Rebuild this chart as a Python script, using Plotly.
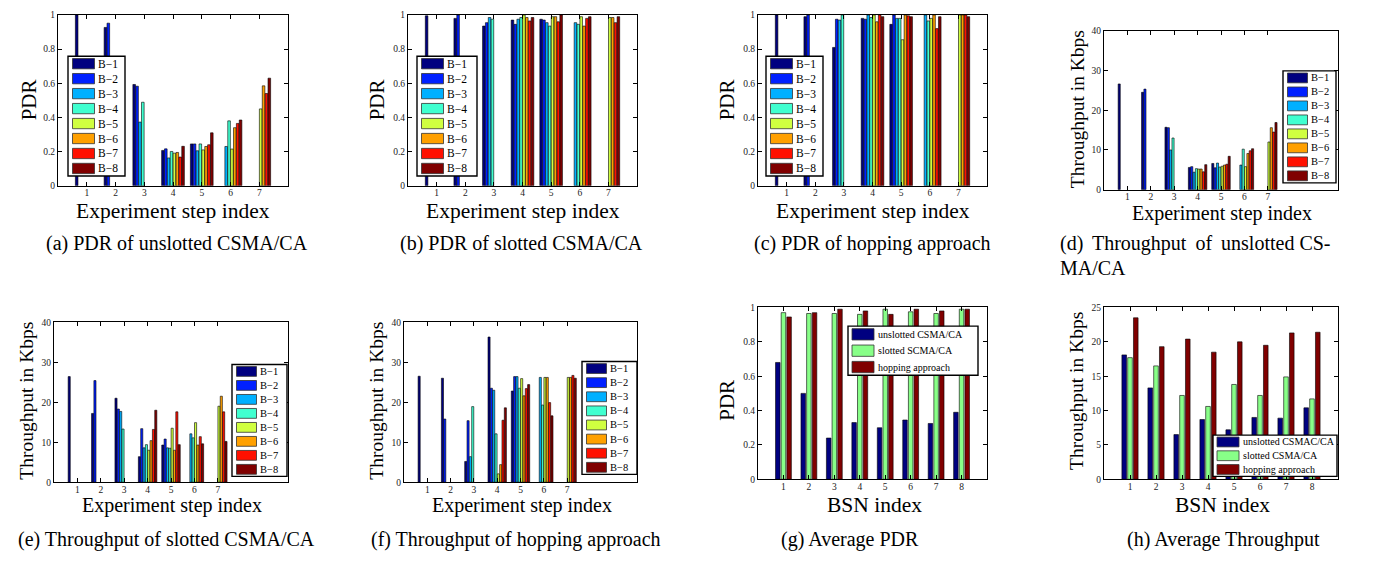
import plotly.graph_objects as go

N = None
FONT = "Liberation Serif, Times New Roman, serif"

# ---------------- data ----------------
steps = [1, 2, 3, 4, 5, 6, 7]
bsn_index = [1, 2, 3, 4, 5, 6, 7, 8]
body_names = ["B−1", "B−2", "B−3", "B−4", "B−5", "B−6", "B−7", "B−8"]

# rows = B-1 ... B-8, columns = experiment step 1..7
pdr_unslotted = [
    [1.0, 0.927, 0.593, 0.207, 0.245, N, N],
    [N, 0.952, 0.583, 0.216, 0.245, N, N],
    [N, N, 0.373, 0.163, 0.205, 0.23, N],
    [N, N, 0.489, 0.201, 0.245, 0.38, N],
    [N, N, N, 0.191, 0.21, 0.215, 0.45],
    [N, N, N, 0.195, 0.23, 0.34, 0.585],
    [N, N, N, 0.168, 0.24, 0.365, 0.54],
    [N, N, N, 0.231, 0.31, 0.385, 0.63],
]
pdr_slotted = [
    [0.995, 0.98, 0.935, 0.97, 0.975, N, N],
    [N, 1.0, 0.955, 0.945, 0.97, N, N],
    [N, N, 0.985, 0.975, 0.955, 0.955, N],
    [N, N, 0.975, 0.985, 0.935, 0.945, N],
    [N, N, N, 1.0, 0.99, 0.99, 0.985],
    [N, N, N, 0.985, 0.99, 0.935, 0.985],
    [N, N, N, 0.965, 0.96, 0.98, 0.955],
    [N, N, N, 0.985, 1.0, 0.99, 0.99],
]
pdr_hopping = [
    [1.0, 0.99, 0.81, 0.98, 0.945, N, N],
    [N, 1.0, 0.975, 0.975, 1.0, N, N],
    [N, N, 0.97, 1.0, 0.98, 1.0, N],
    [N, N, 1.0, 0.985, 0.98, 0.965, N],
    [N, N, N, 1.0, 0.855, 0.98, 1.0],
    [N, N, N, 0.96, 1.0, 1.0, 1.0],
    [N, N, N, 1.0, 0.995, 0.92, 1.0],
    [N, N, N, 0.99, 0.99, 0.99, 0.99],
]
thr_unslotted = [
    [26.6, 24.5, 15.7, 5.6, 6.6, N, N],
    [N, 25.3, 15.6, 5.8, 5.5, N, N],
    [N, N, 10.0, 4.4, 6.7, 6.2, N],
    [N, N, 13.0, 5.3, 5.7, 10.2, N],
    [N, N, N, 5.2, 5.9, 5.8, 12.0],
    [N, N, N, 5.2, 6.2, 9.1, 15.6],
    [N, N, N, 4.5, 6.4, 9.8, 14.5],
    [N, N, N, 6.3, 8.4, 10.3, 16.9],
]
thr_slotted = [
    [26.4, 17.2, 21.0, 6.4, 9.3, N, N],
    [N, 25.4, 18.3, 13.4, 10.8, N, N],
    [N, N, 17.7, 8.6, 8.6, 12.1, N],
    [N, N, 13.3, 9.4, 8.5, 11.1, N],
    [N, N, N, 8.0, 13.5, 14.9, 19.0],
    [N, N, N, 10.4, 8.0, 9.3, 21.5],
    [N, N, N, 13.2, 17.6, 11.4, 17.6],
    [N, N, N, 18.0, 9.4, 9.6, 10.2],
]
thr_hopping = [
    [26.5, 26.0, 5.2, 36.3, 22.8, N, N],
    [N, 15.8, 15.4, 23.5, 26.4, N, N],
    [N, N, 6.4, 23.0, 26.4, 26.2, N],
    [N, N, 18.9, 12.1, 23.5, 19.3, N],
    [N, N, N, 2.1, 25.9, 26.2, 26.2],
    [N, N, N, 4.4, 21.6, 26.2, 26.2],
    [N, N, N, 15.5, 23.4, 19.9, 26.7],
    [N, N, N, 18.6, 24.4, 16.6, 26.0],
]

avg_pdr_names = ["unslotted CSMA/CA", "slotted SCMA/CA", "hopping approach"]
avg_pdr_unslotted = [0.68, 0.50, 0.24, 0.33, 0.30, 0.345, 0.325, 0.39]
avg_pdr_slotted = [0.97, 0.965, 0.965, 0.96, 0.99, 0.975, 0.965, 0.99]
avg_pdr_hopping = [0.945, 0.97, 0.99, 0.98, 0.96, 0.99, 0.98, 0.99]

avg_thr_names = ["unslotted CSMAC/CA", "slotted CSMA/CA", "hopping approach"]
avg_thr_unslotted = [18.1, 13.3, 6.5, 8.7, 7.2, 9.0, 8.9, 10.4]
avg_thr_slotted = [17.7, 16.5, 12.2, 10.6, 13.8, 12.2, 14.9, 11.7]
avg_thr_hopping = [23.5, 19.3, 20.4, 18.5, 20.0, 19.5, 21.3, 21.4]

captions = [
    "(a) PDR of unslotted CSMA/CA",
    "(b) PDR of slotted CSMA/CA",
    "(c) PDR of hopping approach",
    "(d)\u2009 Throughput\u2009 of\u2009 unslotted CS-",
    "(e) Throughput of slotted CSMA/CA",
    "(f) Throughput of hopping approach",
    "(g) Average PDR",
    "(h) Average Throughput",
]
caption_cont = "MA/CA"

# ---------------- styles / geometry ----------------
body_colors = ["#000080", "#0020FF", "#00B0FF", "#40FFD0",
               "#D0FF40", "#FFA000", "#FF1000", "#800000"]
method_colors = ["#000080", "#88FF88", "#800000"]

OFF = 8                      # page body margin of the browser
W, H = 1396 - 2 * OFF, 561 - 2 * OFF


def px(x):
    return (x - OFF) / W


def py(y):
    return 1 - (y - OFF) / H


# panel geometry in window pixels: (left, top, right, bottom)
panels = [
    dict(box=(58, 10, 288, 184), series=pdr_unslotted, xr=[0, 8], yr=[0, 1], dt=0.2,
         leg=(68, 52, 125, 174), lf=11.5, sw=(4.5, 22, 10.5),
         ytitle="PDR", ytp=(29, 97), ysz=21, xtitle="Experiment step index", xtp=(173, 210), xsz=21.5),
    dict(box=(408, 10, 637, 184), series=pdr_slotted, xr=[0, 8], yr=[0, 1], dt=0.2,
         leg=(417, 52, 477, 174), lf=11.5, sw=(4.5, 22, 10.5),
         ytitle="PDR", ytp=(377, 97), ysz=21, xtitle="Experiment step index", xtp=(523, 210), xsz=21.5),
    dict(box=(758, 10, 987, 184), series=pdr_hopping, xr=[0, 8], yr=[0, 1], dt=0.2,
         leg=(766, 52, 823, 174), lf=11.5, sw=(4.5, 22, 10.5),
         ytitle="PDR", ytp=(727, 97), ysz=21, xtitle="Experiment step index", xtp=(873, 210), xsz=21.5),
    dict(box=(1104, 26, 1338, 188), series=thr_unslotted, xr=[0, 10], yr=[0, 40], dt=10,
         leg=(1283, 67, 1336, 181), lf=10.5, sw=(4.5, 20, 10),
         ytitle="Throughput in Kbps", ytp=(1077, 106), ysz=19.5, xtitle="Experiment step index", xtp=(1222, 212), xsz=20),
    dict(box=(54, 323, 288, 486), series=thr_slotted, xr=[0, 10], yr=[0, 40], dt=10,
         leg=(232, 366, 287, 480), lf=10.5, sw=(4.5, 20, 10),
         ytitle="Throughput in Kbps", ytp=(27, 403), ysz=19.5, xtitle="Experiment step index", xtp=(172, 510), xsz=20),
    dict(box=(404, 323, 637, 486), series=thr_hopping, xr=[0, 10], yr=[0, 40], dt=10,
         leg=(582, 363, 637, 478), lf=10.5, sw=(4.5, 20, 10),
         ytitle="Throughput in Kbps", ytp=(377, 403), ysz=19.5, xtitle="Experiment step index", xtp=(522, 510), xsz=20),
    dict(box=(758, 308, 987, 483), series=[avg_pdr_unslotted, avg_pdr_slotted, avg_pdr_hopping],
         names=avg_pdr_names, xr=[0, 9], yr=[0, 1], dt=0.2,
         leg=(848, 327, 978, 377), lf=10, sw=(4, 22, 11.5),
         ytitle="PDR", ytp=(727, 403), ysz=21, xtitle="BSN index", xtp=(874, 509), xsz=21.5),
    dict(box=(1104, 308, 1338, 483), series=[avg_thr_unslotted, avg_thr_slotted, avg_thr_hopping],
         names=avg_thr_names, xr=[0, 9], yr=[0, 25], dt=5,
         leg=(1213, 438, 1337, 480), lf=10, sw=(4, 22, 10),
         ytitle="Throughput in Kbps", ytp=(1077, 393), ysz=19.5, xtitle="BSN index", xtp=(1222, 509), xsz=21.5),
]

caption_pos = [(177, 243, "center"), (521, 243, "center"), (872, 243, "center"), (1058, 243, "left"),
               (166, 544, "center"), (516, 544, "center"), (850, 544, "center"), (1223, 544, "center")]
caption_cont_pos = (1058, 268)

fig = go.Figure()
layout = dict(
    width=W, height=H,
    margin=dict(l=0, r=0, t=0, b=0),
    paper_bgcolor="white", plot_bgcolor="white",
    barmode="group", bargap=0.2, bargroupgap=0.1,
    font=dict(family=FONT, color="black", size=10),
    showlegend=False,
)
annotations = []
shapes = []


def text_ann(text, x, y, size, xanchor="center", angle=0):
    return dict(text=text, x=px(x), y=py(y), xref="paper", yref="paper",
                xanchor=xanchor, yanchor="middle", textangle=angle, showarrow=False,
                font=dict(family=FONT, size=size, color="black"))


def add_legend(box, names, colors, fsize, sw):
    l, t, r, b = box
    pad, sw_w, sw_h = sw
    rh = (b - t) / len(names)
    shapes.append(dict(type="rect", xref="paper", yref="paper", layer="above",
                       x0=px(l), x1=px(r), y0=py(b), y1=py(t),
                       fillcolor="white", line=dict(color="black", width=1.4)))
    for i, (nm, c) in enumerate(zip(names, colors)):
        cy = t + (i + 0.5) * rh
        shapes.append(dict(type="rect", xref="paper", yref="paper", layer="above",
                           x0=px(l + pad), x1=px(l + pad + sw_w),
                           y0=py(cy + sw_h / 2), y1=py(cy - sw_h / 2),
                           fillcolor=c, line=dict(color="#333", width=0.8)))
        annotations.append(text_ann(nm, l + pad + sw_w + 1.5, cy, fsize, xanchor="left"))


for i, p in enumerate(panels):
    k = i + 1
    xa = "x" if k == 1 else f"x{k}"
    ya = "y" if k == 1 else f"y{k}"
    l, t, r, b = p["box"]
    axis_common = dict(
        showline=True, linecolor="black", linewidth=1, mirror="ticks",
        ticks="inside", ticklen=4, tickcolor="black", tickwidth=0.8,
        showgrid=False, zeroline=False, fixedrange=True,
        tickfont=dict(family=FONT, size=9.5, color="#222"),
    )
    layout["xaxis" if k == 1 else f"xaxis{k}"] = dict(
        domain=[px(l), px(r)], anchor=ya, range=p["xr"], ticklabelstandoff=-2,
        tickvals=bsn_index if "names" in p else steps, **axis_common)
    layout["yaxis" if k == 1 else f"yaxis{k}"] = dict(
        domain=[py(b), py(t)], anchor=xa, range=p["yr"], dtick=p["dt"], tick0=0, **axis_common)

    if "names" in p:
        nser = len(p["series"])
        gw = nser / (nser + 1.5)
        slot = gw / nser
        for j, vals in enumerate(p["series"]):
            fig.add_trace(go.Bar(
                x=bsn_index, y=vals, name=p["names"][j],
                marker=dict(color=method_colors[j], line=dict(color="black", width=0.6)),
                width=slot * 0.8, offset=-gw / 2 + j * slot + slot * 0.1,
                xaxis=xa, yaxis=ya,
            ))
        add_legend(p["leg"], p["names"], method_colors, p["lf"], p["sw"])
    else:
        for j, vals in enumerate(p["series"]):
            fig.add_trace(go.Bar(
                x=steps, y=vals, name=body_names[j],
                marker=dict(color=body_colors[j], line=dict(color="black", width=0.6)),
                xaxis=xa, yaxis=ya,
            ))
        add_legend(p["leg"], body_names, body_colors, p["lf"], p["sw"])

    annotations.append(text_ann(p["ytitle"], *p["ytp"], p["ysz"], angle=-90))
    annotations.append(text_ann(p["xtitle"], *p["xtp"], p["xsz"]))

for cap, (cx, cy, al) in zip(captions, caption_pos):
    annotations.append(text_ann(cap, cx, cy, 20, xanchor=al))
annotations.append(text_ann(caption_cont, *caption_cont_pos, 20, xanchor="left"))

layout["annotations"] = annotations
layout["shapes"] = shapes
fig.update_layout(**layout)
fig.write_html("out.html")
